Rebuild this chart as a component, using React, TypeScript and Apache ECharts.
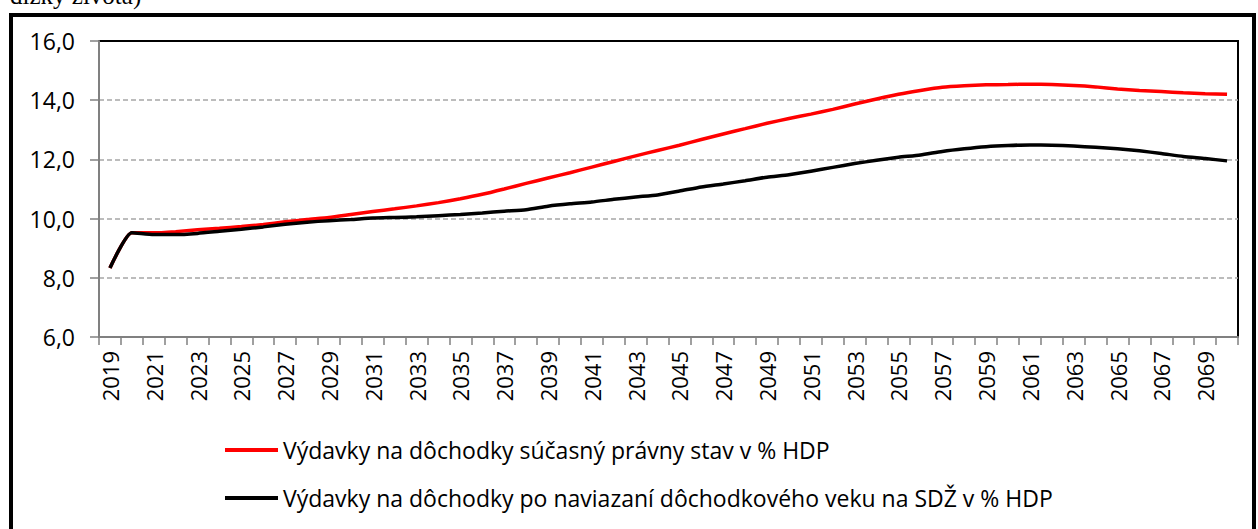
import React, { useEffect, useRef } from "react";
import * as echarts from "echarts";

const years: string[] = [
  "2019","2020","2021","2022","2023","2024","2025","2026","2027","2028",
  "2029","2030","2031","2032","2033","2034","2035","2036","2037","2038",
  "2039","2040","2041","2042","2043","2044","2045","2046","2047","2048",
  "2049","2050","2051","2052","2053","2054","2055","2056","2057","2058",
  "2059","2060","2061","2062","2063","2064","2065","2066","2067","2068",
  "2069","2070",
];

const currentLaw: number[] = [
  8.33, 9.52, 9.52, 9.56, 9.62, 9.67, 9.73, 9.8, 9.89, 9.97,
  10.04, 10.14, 10.24, 10.33, 10.43, 10.54, 10.67, 10.82, 11.0, 11.19,
  11.37, 11.55, 11.74, 11.93, 12.12, 12.3, 12.48, 12.67, 12.86, 13.04,
  13.22, 13.38, 13.53, 13.69, 13.87, 14.04, 14.2, 14.33, 14.44, 14.49,
  14.52, 14.53, 14.54, 14.53, 14.5, 14.45, 14.38, 14.33, 14.29, 14.25,
  14.22, 14.2,
];

const linkedAge: number[] = [
  8.33, 9.52, 9.46, 9.46, 9.5, 9.57, 9.64, 9.72, 9.81, 9.88,
  9.93, 9.97, 10.02, 10.04, 10.06, 10.1, 10.14, 10.19, 10.25, 10.3,
  10.42, 10.5, 10.56, 10.65, 10.73, 10.8, 10.93, 11.07, 11.17, 11.28,
  11.4, 11.48, 11.6, 11.73, 11.86, 11.97, 12.07, 12.15, 12.27, 12.36,
  12.43, 12.47, 12.49, 12.48, 12.45, 12.41, 12.36, 12.29, 12.2, 12.1,
  12.03, 11.95,
];

const seriesNames: string[] = [
  "Výdavky na dôchodky súčasný právny stav v % HDP",
  "Výdavky na dôchodky po naviazaní dôchodkového veku na SDŽ v % HDP",
];

const headingTail = "dĺžky života)";

const FONT = "Open Sans";

export default function App() {
  const ref = useRef<HTMLDivElement>(null);
  useEffect(() => {
    if (!ref.current) return;
    const chart = echarts.init(ref.current, null, { renderer: "svg" });
    chart.setOption({
      animation: false,
      backgroundColor: "#ffffff",
      textStyle: { fontFamily: FONT },
      graphic: [
        {
          type: "text",
          left: 10,
          top: -17,
          style: {
            text: headingTail,
            font: '25px "Liberation Serif"',
            fill: "#000",
          },
        },
        {
          type: "rect",
          shape: { x: 11, y: 15, width: 1243, height: 540 },
          style: { fill: "none", stroke: "#000", lineWidth: 4 },
          z: 10,
        },
      ],
      grid: {
        left: 99,
        top: 41,
        width: 1139,
        height: 296,
        show: true,
        borderColor: "#000",
        borderWidth: 2,
        backgroundColor: "#fff",
      },
      legend: {
        orient: "vertical",
        left: 220,
        top: 433,
        icon: "rect",
        itemWidth: 53,
        itemHeight: 4,
        itemGap: 24,
        data: seriesNames,
        textStyle: { fontFamily: FONT, fontSize: 23, color: "#000", lineHeight: 24 },
      },
      xAxis: {
        type: "category",
        data: years,
        boundaryGap: true,
        axisLine: { lineStyle: { color: "#808080", width: 2 } },
        axisTick: { show: true, interval: 0, length: 8, lineStyle: { color: "#808080", width: 1.5 } },
        axisLabel: {
          interval: 1,
          rotate: 90,
          margin: 14,
          fontFamily: FONT,
          fontSize: 22,
          color: "#000",
        },
        splitLine: { show: false },
      },
      yAxis: {
        type: "value",
        min: 6,
        max: 16,
        interval: 2,
        axisLine: { show: true, lineStyle: { color: "#808080", width: 2 } },
        axisTick: { show: true, length: 9, lineStyle: { color: "#808080", width: 1.5 } },
        axisLabel: {
          margin: 24,
          fontFamily: FONT,
          fontSize: 23,
          color: "#000",
          formatter: (v: number) => v.toFixed(1).replace(".", ","),
        },
        splitLine: {
          show: true,
          showMinLine: false,
          showMaxLine: false,
          lineStyle: { color: "#a6a6a6", type: [5, 3], width: 1.5 },
        },
      },
      series: [
        {
          name: seriesNames[0],
          type: "line",
          data: currentLaw,
          smooth: 0.2,
          symbol: "none",
          lineStyle: { color: "#ff0000", width: 3.5 },
          itemStyle: { color: "#ff0000" },
          z: 3,
        },
        {
          name: seriesNames[1],
          type: "line",
          data: linkedAge,
          smooth: 0.2,
          symbol: "none",
          lineStyle: { color: "#000000", width: 3.5 },
          itemStyle: { color: "#000000" },
          z: 4,
        },
      ],
    });
    return () => chart.dispose();
  }, []);
  return (
    <div
      ref={ref}
      style={{ position: "absolute", left: 0, top: 0, width: 1258, height: 529 }}
    />
  );
}
